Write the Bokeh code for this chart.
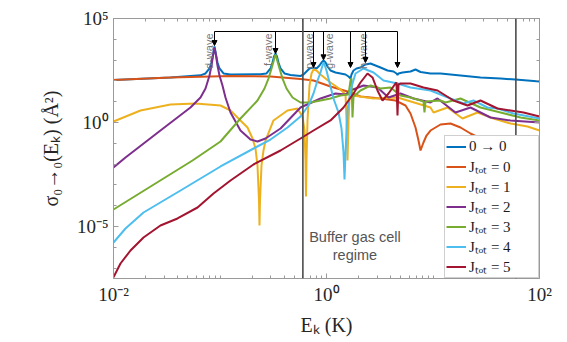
from math import pi
from bokeh.plotting import figure
from bokeh.models import (LogAxis, FixedTicker, CustomJSTickFormatter, Span, Arrow,
                          NormalHead, ColumnDataSource, Legend, LegendItem)
from bokeh.core.properties import value
from bokeh.embed import file_html
from bokeh.resources import INLINE

# ---------------- data (E in K, sigma in Angstrom^2) ----------------
tot_E = [0.01, 0.0343, 0.0656, 0.0731, 0.0797, 0.0832, 0.0860, 0.0888, 0.0917, 0.0947,
         0.0989, 0.1079, 0.1255, 0.2400, 0.2733, 0.298, 0.3112, 0.3214, 0.3321, 0.3428,
         0.3541, 0.370, 0.4033, 0.4592, 0.570, 0.6081, 0.6489, 0.6925, 0.755, 0.8054,
         0.8600, 0.8980, 0.9372, 0.9786, 1.022, 1.090, 1.214, 1.354, 1.509, 1.610,
         1.680, 1.717, 1.793, 1.914, 2.085, 2.323, 2.589, 2.884, 3.214, 3.740,
         4.257, 4.542, 4.642, 4.743, 5.17, 6.149, 6.851, 7.634, 9.47, 11.76,
         18.13, 27.93, 43.04, 59.53, 100]
tot_s = [110, 146, 185, 227, 395, 768, 1860, 4500, 1860, 768,
         395, 227, 205, 210, 227, 395, 768, 1490, 2070, 1490,
         768, 395, 227, 192, 172, 203, 283, 395, 441, 395,
         550, 768, 957, 768, 492, 316, 253, 227, 203, 163,
         130, 203, 316, 395, 441, 614, 687, 550, 441, 316,
         283, 227, 192, 227, 253, 283, 353, 268, 227, 227,
         182, 146, 130, 117, 93.5]

j0_E = [0.01, 0.0343, 0.1255, 0.298, 0.570, 0.755, 1.090, 1.575, 2.085, 3.214,
        4.445, 5.519, 6.149, 6.851, 7.31, 7.634, 8.14, 8.69, 9.47, 11.76,
        14.6, 18.13, 22.5, 27.93, 43.04, 66.33, 100]
j0_s = [110, 146, 172, 163, 123, 104, 53.8, 30.9, 17.8, 14.3,
        11.4, 6.56, 2.71, 0.575, 0.136, 0.0451, 0.109, 0.237, 0.412, 0.801,
        0.895, 0.575, 0.296, 0.170, 0.109, 0.0784, 0.0562]

j1_E = [0.01, 0.01793, 0.0343, 0.0589, 0.1011, 0.1255, 0.1557, 0.1813, 0.2020, 0.2154,
        0.2249, 0.2324, 0.2349, 0.2374, 0.2453, 0.2561, 0.2675, 0.3179, 0.4303, 0.5342,
        0.5953, 0.6217, 0.635, 0.6419, 0.6489, 0.6633, 0.6925, 0.7230, 0.755, 0.8054,
        0.8787, 1.090, 1.354, 1.509, 1.541, 1.575, 1.610, 1.644, 1.754, 2.763,
        4.642, 7.15, 9.47, 10.11, 13.68, 18.92, 26.18, 36.99, 53.43, 77.2, 100]
j1_s = [1.12, 3.78, 7.33, 8.2, 6.56, 3.78, 1.25, 0.575, 0.170, 0.0562,
        0.00857, 1.78e-4, 1.12e-5, 1.78e-4, 0.00857, 0.0451, 0.136, 1.25, 3.78, 4.71,
        1.94, 0.412, 0.0149, 2.77e-4, 0.0149, 1.25, 60, 227, 353, 316,
        203, 83.7, 38.6, 22.2, 1.25, 0.0149, 1.25, 14.3, 19.9, 14.3,
        15.9, 8.2, 5.26, 3.03, 5.26, 1.56, 3.03, 1.56, 0.895, 0.643, 0.412]

j2_E = [0.01, 0.01296, 0.0276, 0.0528, 0.0656, 0.0731, 0.0797, 0.0832, 0.0860, 0.0888,
        0.0917, 0.0947, 0.0989, 0.1055, 0.1126, 0.1255, 0.1557, 0.1933, 0.2249, 0.2675,
        0.370, 0.570, 0.8787, 1.214, 1.509, 1.680, 2.225, 3.012, 3.821, 4.953,
        6.56, 9.47, 11.03, 16.27, 22.5, 34.67, 53.43, 100]
j2_s = [0.00687, 0.0207, 0.412, 5.26, 15.9, 43.1, 182, 550, 1660, 4000,
        1660, 550, 182, 60, 15.9, 3.03, 0.412, 0.152, 0.122, 0.170,
        0.515, 5.26, 14.3, 24.8, 22.2, 34.5, 60, 48.2, 15.9, 24.8,
        14.3, 9.16, 14.3, 3.03, 5.26, 1.74, 1.25, 1.0]

j3_E = [0.01, 0.0223, 0.0552, 0.1011, 0.1557, 0.2249, 0.2617, 0.2852, 0.3047, 0.3179,
        0.3249, 0.3321, 0.3393, 0.3467, 0.3620, 0.3864, 0.4212, 0.4797, 0.570, 0.7075,
        1.090, 1.354, 1.610, 1.680, 1.717, 1.754, 1.793, 2.085, 2.589, 3.214,
        3.990, 4.953, 6.149, 7.634, 8.14, 8.318, 8.50, 11.76, 13.10, 18.13,
        27.93, 43.04, 66.33, 100]
j3_s = [6.56e-5, 8.38e-4, 0.0149, 0.122, 1.56, 11.4, 43.1, 130, 395, 857,
        1330, 1860, 1330, 857, 395, 130, 43.1, 15.9, 9.16, 9.16,
        14.3, 19.9, 22.2, 104, 130, 1.74, 17.8, 34.5, 60, 43.1,
        48.2, 19.9, 15.9, 11.4, 10.2, 3.03, 10.2, 11.4, 9.16, 14.3,
        5.26, 3.03, 1.74, 1.25]

j4_E = [0.01, 0.01296, 0.01913, 0.0426, 0.1011, 0.2154, 0.298, 0.4303, 0.570, 0.6776,
        0.755, 0.8232, 0.8787, 0.917, 0.9372, 0.9576, 1.0, 1.067, 1.163, 1.297,
        1.383, 1.445, 1.476, 1.509, 1.575, 1.680, 1.872, 2.225, 2.763, 3.428,
        4.642, 6.149, 9.47, 14.6, 19.34, 23.99, 32.48, 40.33, 57.0, 100]
j4_s = [1.70e-6, 8.01e-6, 4.71e-5, 5.38e-4, 7.67e-3, 0.0628, 0.152, 0.575, 1.94, 6.56,
        24.8, 104, 253, 550, 768, 614, 316, 83.7, 14.3, 3.03,
        0.515, 0.0361, 1.82e-3, 0.0361, 3.78, 34.5, 227, 395, 253, 104,
        75, 48.2, 34.5, 14.3, 8.2, 11.4, 5.26, 4.71, 2.71, 1.56]

j5_E = [0.01, 0.01163, 0.01444, 0.01913, 0.0276, 0.0399, 0.0615, 0.0869, 0.1255, 0.2063,
        0.370, 0.570, 0.755, 1.090, 1.445, 1.793, 2.085, 2.426, 2.704, 3.012,
        3.355, 3.821, 4.445, 4.542, 4.642, 4.743, 4.953, 6.149, 8.14, 11.03,
        15.58, 21.09, 27.93, 40.33, 53.43, 70.8, 100]
j5_s = [3.6e-8, 1.66e-7, 7.02e-7, 2.96e-6, 1.12e-5, 2.43e-5, 8.19e-5, 3.86e-4, 1.63e-3, 9.57e-3,
        0.0451, 0.170, 0.412, 1.25, 5.26, 24.8, 83.7, 227, 146, 34.5,
        11.4, 24.8, 75, 83.7, 2.17, 67.1, 75, 75, 48.2, 34.5,
        11.4, 6.56, 11.4, 4.71, 3.78, 3.03, 1.94]

series_labels = ["0 → 0", "Jₜₒₜ = 0", "Jₜₒₜ = 1", "Jₜₒₜ = 2", "Jₜₒₜ = 3", "Jₜₒₜ = 4", "Jₜₒₜ = 5"]

# partial-wave resonance markers
wave_E = [0.0888, 0.3321, 0.755, 0.9372, 1.68, 2.323, 4.642]
wave_tip = [5.0e3, 2.07e3, 441, 1.03e3, 441, 768, 441]
wave_bracket = 2.37e4
wave_names = ["d-wave", "f-wave", "p-wave", "g-wave", "h-wave"]
wave_label_E = [0.078, 0.285, 0.678, 1.067, 2.18]
wave_label_top = 1.9e4

regime_E = [0.6, 60]
regime_text = ["Buffer gas cell", "regime"]
regime_text_E = [1.85, 1.85]
regime_text_s = [2.96e-6, 4.5e-7]

x_ticks = [0.01, 1, 100]
x_tick_labels = ["10⁻²", "10⁰", "10²"]
y_ticks = [1e-5, 1, 1e5]
y_tick_labels = ["10⁻⁵", "10⁰", "10⁵"]

# ---------------- styling ----------------
colors = ["#0072BD", "#D95319", "#EDB120", "#7E2F8E", "#77AC30", "#4DBEEE", "#A2142F"]
serif = "Liberation Serif"
sans = "Liberation Sans"
axis_gray = "#9a9a9a"

p = figure(width=567, height=342, x_axis_type="log", y_axis_type="log",
           x_range=(0.01, 100), y_range=(3.16e-8, 1e5),
           output_backend="svg", toolbar_location=None,
           min_border_left=113, min_border_right=28, min_border_top=18, min_border_bottom=64)
p.grid.visible = False
p.outline_line_color = None
p.background_fill_color = "white"
p.border_fill_color = "white"

x_minor = [m * 10.0 ** k for k in range(-2, 2) for m in range(1, 10)] + [100]
y_minor = [10.0 ** k for k in range(-7, 6)]

fmt_code = """
let best = -1;
for (let i = 0; i < tvals.length; i++) {
  if (Math.abs(Math.log10(tvals[i]) - Math.log10(tick)) < 1e-6) { best = i; }
}
return best >= 0 ? tlabs[best] : "";
"""
blank_code = "return '';"

p.xaxis.ticker = FixedTicker(ticks=x_ticks, minor_ticks=x_minor)
p.yaxis.ticker = FixedTicker(ticks=y_ticks, minor_ticks=y_minor)
p.xaxis.formatter = CustomJSTickFormatter(args=dict(tvals=x_ticks, tlabs=x_tick_labels), code=fmt_code)
p.yaxis.formatter = CustomJSTickFormatter(args=dict(tvals=y_ticks, tlabs=y_tick_labels), code=fmt_code)
p.xaxis.axis_label = "Eₖ (K)"
p.yaxis.axis_label = "σ₀→₀(Eₖ) (Å²)"

def style_axis(ax, labels=True):
    ax.axis_line_color = axis_gray
    ax.major_tick_line_color = axis_gray
    ax.minor_tick_line_color = axis_gray
    ax.major_tick_in = 5
    ax.major_tick_out = 0
    ax.minor_tick_in = 3
    ax.minor_tick_out = 0
    if labels:
        ax.major_label_text_font = serif
        ax.major_label_text_font_size = "19px"
        ax.major_label_text_color = "#262626"
        ax.major_label_standoff = 5
        ax.axis_label_text_font = serif
        ax.axis_label_text_font_size = "20px"
        ax.axis_label_text_font_style = "normal"
        ax.axis_label_text_color = "#262626"
        ax.axis_label_standoff = 6
    else:
        ax.major_label_standoff = 0

for ax in p.xaxis + p.yaxis:
    style_axis(ax)
p.yaxis.axis_label_standoff = 12

top_ax = LogAxis(ticker=FixedTicker(ticks=x_ticks, minor_ticks=x_minor),
                 formatter=CustomJSTickFormatter(code=blank_code))
right_ax = LogAxis(ticker=FixedTicker(ticks=y_ticks, minor_ticks=y_minor),
                   formatter=CustomJSTickFormatter(code=blank_code))
style_axis(top_ax, labels=False)
style_axis(right_ax, labels=False)
p.add_layout(top_ax, "above")
p.add_layout(right_ax, "right")

# ---------------- curves ----------------
series = [(tot_E, tot_s), (j0_E, j0_s), (j1_E, j1_s), (j2_E, j2_s),
          (j3_E, j3_s), (j4_E, j4_s), (j5_E, j5_s)]
renderers = []
for (xs, ys), c in zip(series, colors):
    r = p.line(xs, ys, line_color=c, line_width=2)
    renderers.append(r)

# regime lines
for e in regime_E:
    p.add_layout(Span(location=e, dimension="height", line_color="#4d4d4d", line_width=1.6))

p.text(x=regime_text_E, y=regime_text_s, text=regime_text, text_align="center",
       text_baseline="middle", text_font=value(sans), text_font_size="14.5px",
       text_color="#555555")

# resonance arrows
p.line([wave_E[0], wave_E[-1]], [wave_bracket, wave_bracket], line_color="black", line_width=1)
arrow_src = ColumnDataSource(dict(x=wave_E, y0=[wave_bracket] * len(wave_E), y1=wave_tip))
p.add_layout(Arrow(end=NormalHead(size=5, line_color="black", fill_color="black", line_width=1),
                   x_start="x", y_start="y0", x_end="x", y_end="y1",
                   line_color="black", line_width=1, source=arrow_src))

p.text(x=wave_label_E, y=[wave_label_top] * len(wave_names), text=wave_names,
       angle=pi / 2, text_align="right", text_baseline="middle",
       text_font=value(sans), text_font_size="11px", text_color="#777777")

# legend
legend = Legend(items=[LegendItem(label=l, renderers=[r]) for l, r in zip(series_labels, renderers)],
                location="bottom_right", margin=0, padding=1, spacing=0,
                glyph_width=20, glyph_height=19, label_height=19, label_width=68,
                label_standoff=3,
                label_text_font=serif, label_text_font_size="15px", label_text_color="#1a1a1a",
                border_line_color="#a0a0a0", border_line_width=1,
                background_fill_color="white", background_fill_alpha=1.0)
p.add_layout(legend)

open("out.html", "w").write(file_html(p, INLINE))
